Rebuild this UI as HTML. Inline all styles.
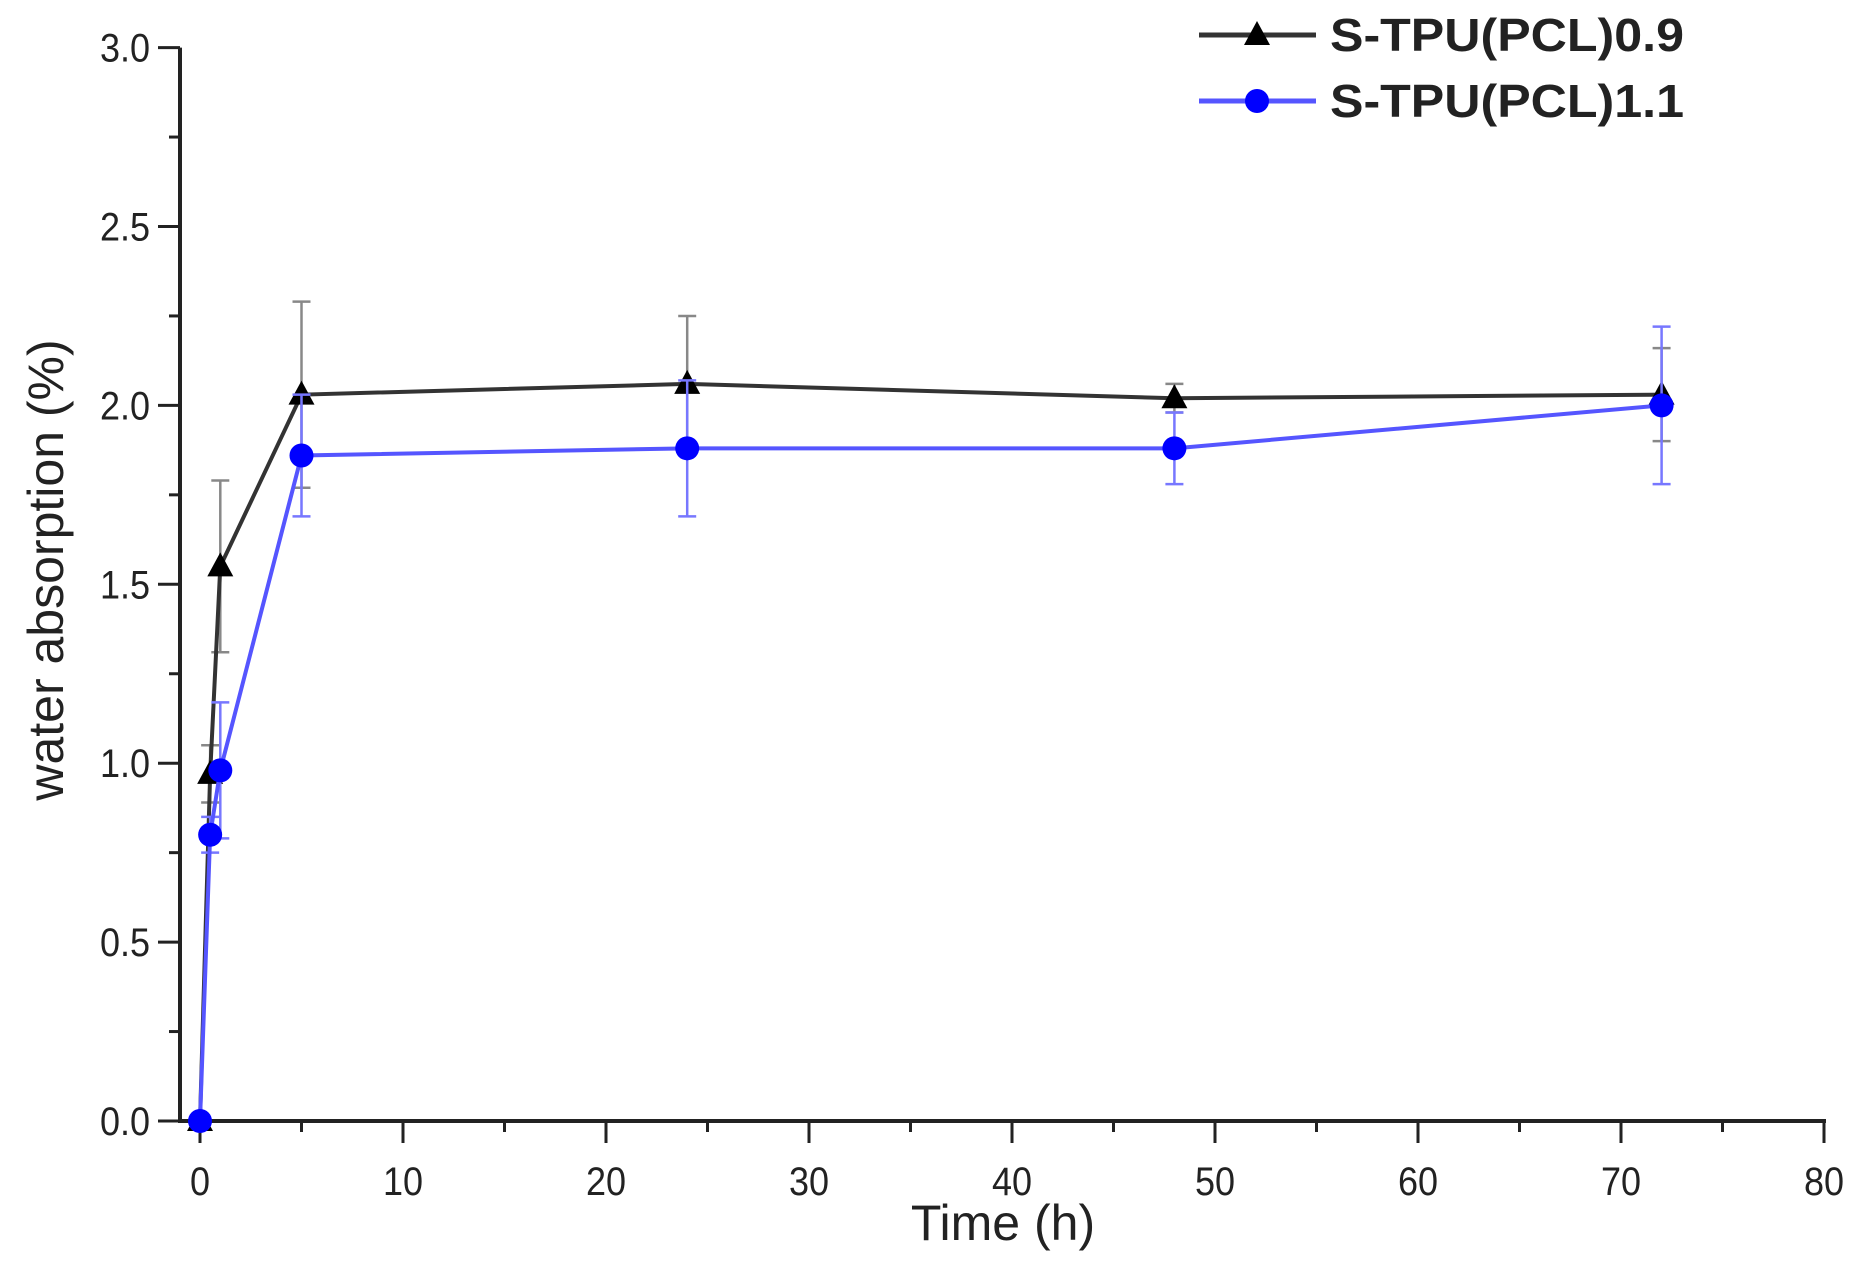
<!DOCTYPE html>
<html><head><meta charset="utf-8"><style>body{margin:0;background:#fff}svg{display:block}text{font-family:"Liberation Sans",sans-serif}</style></head>
<body>
<svg id="c" width="1862" height="1270"></svg>
<script>
const times=[0,0.5,1,5,24,48,72];
const s09=[0,0.97,1.55,2.03,2.06,2.02,2.03];
const s09err=[0,0.08,0.24,0.26,0.19,0.04,0.13];
const s11=[0,0.80,0.98,1.86,1.88,1.88,2.00];
const s11err=[0,0.05,0.19,0.17,0.19,0.10,0.22];
const xTicks=[0,10,20,30,40,50,60,70,80];
const yTicks=[0,0.5,1.0,1.5,2.0,2.5,3.0];
const yLabels=["0.0","0.5","1.0","1.5","2.0","2.5","3.0"];
const X=v=>200+v*20.3, Y=v=>1121-v*357.8;
const svg=document.getElementById('c'),NS="http://www.w3.org/2000/svg";
function mk(t,a,p){const e=document.createElementNS(NS,t);for(const k in a)e.setAttribute(k,a[k]);(p||svg).appendChild(e);return e;}
const ax=mk('g',{});


mk('line',{x1:180,y1:Y(3),x2:180,y2:1121,stroke:'#222','stroke-width':4},ax);
mk('line',{x1:178,y1:1121,x2:X(80)+2,y2:1121,stroke:'#222','stroke-width':4},ax);
for(let v=0;v<=80;v+=5){mk('line',{x1:X(v),y1:1121,x2:X(v),y2:1121+(v%10?11:22),stroke:'#222','stroke-width':3},ax);}
xTicks.forEach(v=>{const t=mk('text',{x:X(v),y:1195,'text-anchor':'middle','font-size':40,fill:'#222',transform:`translate(${X(v)*0.1},0) scale(0.9,1)`},ax);t.textContent=v;

});
for(let v=0;v<=3.001;v+=0.25){const maj=Math.abs(v*2-Math.round(v*2))<1e-6;mk('line',{x1:180-(maj?22:11),y1:Y(v),x2:180,y2:Y(v),stroke:'#222','stroke-width':3},ax);}
yTicks.forEach((v,i)=>{const t=mk('text',{x:150,y:Y(v)+14,'text-anchor':'end','font-size':40,fill:'#222',transform:`translate(15,0) scale(0.9,1)`},ax);t.textContent=yLabels[i];

});
let t=mk('text',{x:1003,y:1240,'text-anchor':'middle','font-size':50,fill:'#222'});t.textContent='Time (h)';


t=mk('text',{x:0,y:0,transform:'translate(63,570) rotate(-90)','text-anchor':'middle','font-size':50,fill:'#222'});t.textContent='water absorption (%)';


function series(vals,err,color,ecol,marker,name){
 const g=mk('g',{});
 
 
 vals.forEach((v,i)=>{if(err[i]>0){const x=X(times[i]);mk('line',{x1:x,y1:Y(v-err[i]),x2:x,y2:Y(v+err[i]),stroke:ecol,'stroke-width':2.5},g);
 [v-err[i],v+err[i]].forEach(e=>mk('line',{x1:x-9,y1:Y(e),x2:x+9,y2:Y(e),stroke:ecol,'stroke-width':2.5},g));}});
 mk('polyline',{points:vals.map((v,i)=>X(times[i])+','+Y(v)).join(' '),fill:'none',stroke:color,'stroke-width':4},g);
 vals.forEach((v,i)=>{const x=X(times[i]),y=Y(v);let m;
 if(marker==='tri')m=mk('polygon',{points:`${x},${y-14} ${x-13},${y+10} ${x+13},${y+10}`,fill:'#000'},g);
 else m=mk('circle',{cx:x,cy:y,r:12,fill:'#0000ff'},g);
 
 });
}
series(s09,s09err,'#333','#888','tri','series-s-tpu-pcl-0-9');
series(s11,s11err,'#5555ff','#7777ff','circ','series-s-tpu-pcl-1-1');
const lg=mk('g',{});


mk('line',{x1:1199,y1:35,x2:1316,y2:35,stroke:'#333','stroke-width':5},lg);
mk('polygon',{points:'1257,21 1244,45 1270,45',fill:'#000'},lg);
t=mk('text',{x:1330,y:51,'font-size':46,'font-weight':'bold',fill:'#222',textLength:354,lengthAdjust:'spacingAndGlyphs'},lg);t.textContent='S-TPU(PCL)0.9';


mk('line',{x1:1199,y1:101,x2:1316,y2:101,stroke:'#5555ff','stroke-width':5},lg);
mk('circle',{cx:1257,cy:101,r:12,fill:'#0000ff'},lg);
t=mk('text',{x:1330,y:117,'font-size':46,'font-weight':'bold',fill:'#222',textLength:354,lengthAdjust:'spacingAndGlyphs'},lg);t.textContent='S-TPU(PCL)1.1';


</script>
</body></html>
